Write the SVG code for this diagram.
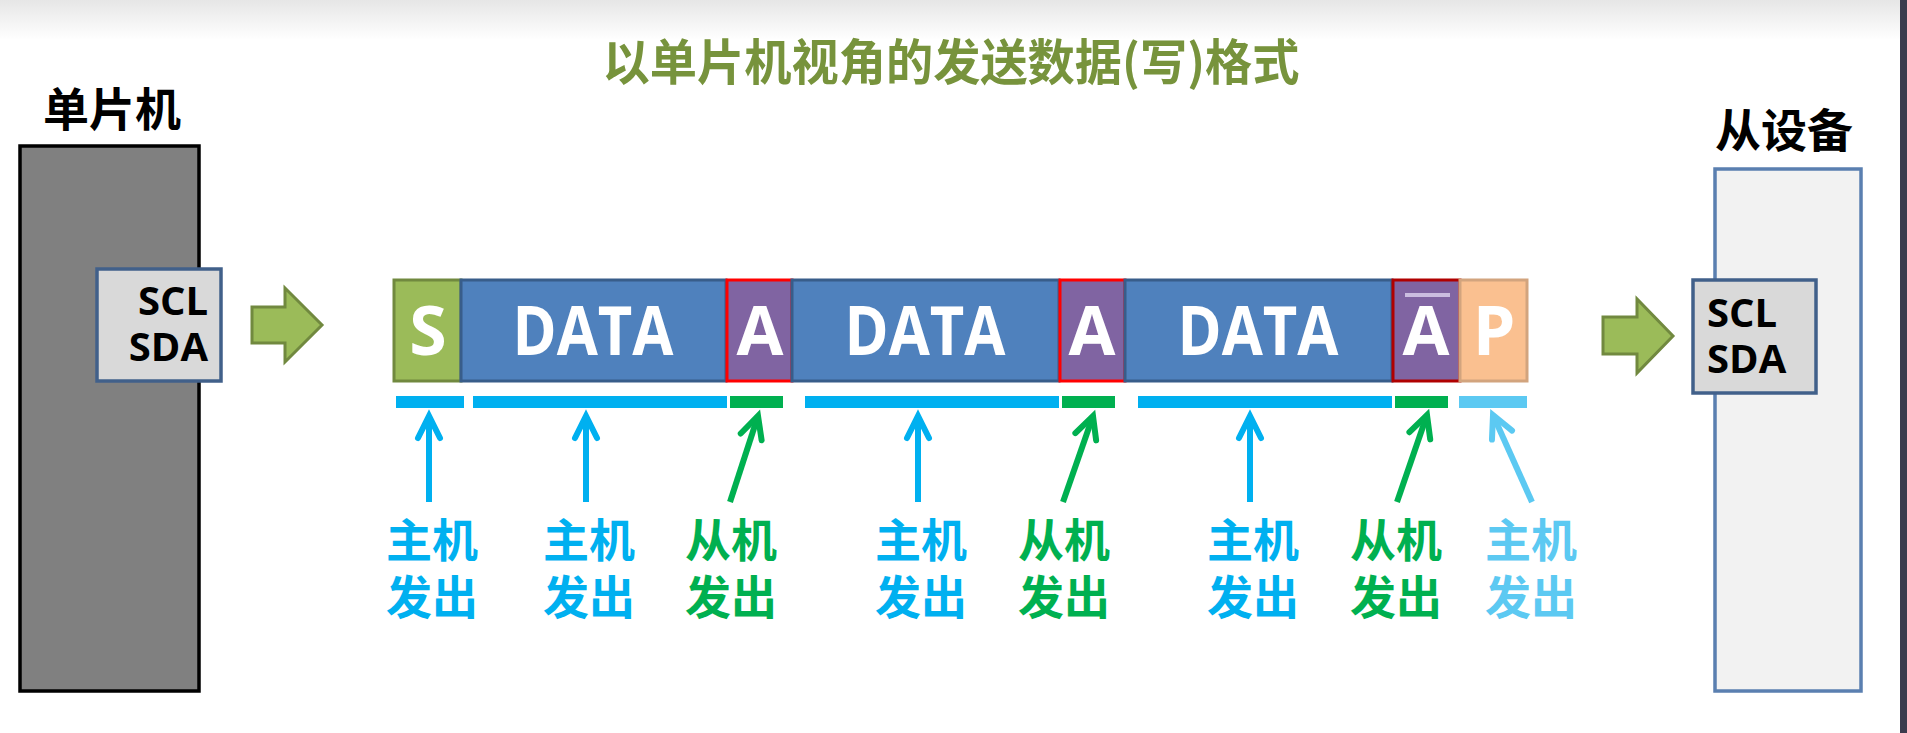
<svg xmlns="http://www.w3.org/2000/svg" width="1907" height="733" viewBox="0 0 1907 733">
<defs>
<linearGradient id="topg" x1="0" y1="0" x2="0" y2="1">
<stop offset="0" stop-color="#e6e6e6"/><stop offset="1" stop-color="#ffffff"/>
</linearGradient>
<marker id="mc" markerUnits="userSpaceOnUse" viewBox="-30 -16 36 32" markerWidth="36" markerHeight="32" refX="0" refY="0" orient="auto" overflow="visible"><path d="M-22,-11 L0,0 L-22,11" fill="none" stroke="#00B0F0" stroke-width="6" stroke-linecap="round"/></marker>
<marker id="mg" markerUnits="userSpaceOnUse" viewBox="-30 -16 36 32" markerWidth="36" markerHeight="32" refX="0" refY="0" orient="auto" overflow="visible"><path d="M-22,-11 L0,0 L-22,11" fill="none" stroke="#00B050" stroke-width="6" stroke-linecap="round"/></marker>
<marker id="ml" markerUnits="userSpaceOnUse" viewBox="-30 -16 36 32" markerWidth="36" markerHeight="32" refX="0" refY="0" orient="auto" overflow="visible"><path d="M-22,-11 L0,0 L-22,11" fill="none" stroke="#5CC9F2" stroke-width="6" stroke-linecap="round"/></marker>
</defs>
<style>
.cjk{font-family:"Noto Sans CJK SC","Noto Sans",sans-serif;font-weight:700}
.lat{font-family:"Open Sans","Noto Sans","Liberation Sans",sans-serif;font-weight:700}
.big{fill:#ffffff;font-size:68px;text-anchor:middle}
.pin{fill:#000000;font-size:40px}
.lbl{font-size:46px;text-anchor:middle}
.cy{fill:#00B0F0}.gr{fill:#00B050}.lc{fill:#5CC9F2}
.seg{stroke-width:3}
</style>
<rect x="0" y="0" width="1907" height="733" fill="#ffffff"/>
<rect x="0" y="0" width="1907" height="40" fill="url(#topg)"/>
<rect x="1900" y="0" width="7" height="733" fill="#3b3b4d"/>

<text class="cjk" x="951" y="80" font-size="49" fill="#77933C" text-anchor="middle" textLength="697" lengthAdjust="spacingAndGlyphs">以单片机视角的发送数据(写)格式</text>

<g id="mcu">
<text class="cjk" x="112" y="126" font-size="46" fill="#000000" text-anchor="middle">单片机</text>
<rect x="20" y="146" width="179" height="545" fill="#808080" stroke="#000000" stroke-width="3.5"/>
</g>
<g id="mcu-pins">
<rect x="97" y="269" width="124" height="112" fill="#D9D9D9" stroke="#41608A" stroke-width="3.5"/>
<text class="lat pin" text-anchor="end"><tspan x="208" y="315">SCL</tspan><tspan x="208" y="361">SDA</tspan></text>
</g>
<g id="arrow-left">
<polygon points="252,307 285,307 285,288 322,325 285,362 285,343 252,343" fill="#9BBB59" stroke="#71893F" stroke-width="3"/>
</g>

<g id="slave">
<text class="cjk" x="1784" y="147" font-size="46" fill="#000000" text-anchor="middle">从设备</text>
<rect x="1715" y="169" width="146" height="522" fill="#F2F2F2" stroke="#5A7FB0" stroke-width="3.5"/>
</g>
<g id="slave-pins">
<rect x="1693" y="280" width="123" height="113" fill="#D9D9D9" stroke="#41608A" stroke-width="3.5"/>
<text class="lat pin"><tspan x="1707" y="327">SCL</tspan><tspan x="1707" y="373">SDA</tspan></text>
</g>
<g id="arrow-right">
<polygon points="1603,317 1637,317 1637,299 1673,336 1637,373 1637,354 1603,354" fill="#9BBB59" stroke="#71893F" stroke-width="3"/>
</g>

<g id="frame">
<g id="seg-s"><rect class="seg" x="394" y="280" width="67" height="101" fill="#9BBB59" stroke="#71893F"/><text class="lat big" x="428" y="355">S</text></g>
<g id="seg-data1"><rect class="seg" x="461" y="280" width="265" height="101" fill="#4F81BD" stroke="#385D8A"/><text class="lat big" x="593" y="355" textLength="161" lengthAdjust="spacingAndGlyphs">DATA</text></g>
<g id="seg-a1"><rect class="seg" x="727" y="280" width="65" height="101" fill="#8064A2" stroke="#FF0000"/><text class="lat big" x="760" y="355">A</text></g>
<g id="seg-data2"><rect class="seg" x="792" y="280" width="267" height="101" fill="#4F81BD" stroke="#385D8A"/><text class="lat big" x="925" y="355" textLength="161" lengthAdjust="spacingAndGlyphs">DATA</text></g>
<g id="seg-a2"><rect class="seg" x="1060" y="280" width="65" height="101" fill="#8064A2" stroke="#FF0000"/><text class="lat big" x="1092" y="355">A</text></g>
<g id="seg-data3"><rect class="seg" x="1125" y="280" width="267" height="101" fill="#4F81BD" stroke="#385D8A"/><text class="lat big" x="1258" y="355" textLength="161" lengthAdjust="spacingAndGlyphs">DATA</text></g>
<g id="seg-nack"><rect class="seg" x="1393" y="280" width="67" height="101" fill="#8064A2" stroke="#B00000"/><text class="lat big" x="1426" y="355">A</text><rect x="1405" y="293" width="45" height="4" fill="#CBBDE0"/></g>
<g id="seg-p"><rect class="seg" x="1460" y="280" width="67" height="101" fill="#FAC090" stroke="#D2A47E"/><text class="lat big" x="1494" y="355">P</text></g>
</g>

<g id="bars">
<rect x="396" y="396" width="68" height="12" fill="#00B0F0"/>
<rect x="473" y="396" width="254" height="12" fill="#00B0F0"/>
<rect x="730" y="396" width="53" height="12" fill="#00B050"/>
<rect x="805" y="396" width="254" height="12" fill="#00B0F0"/>
<rect x="1062" y="396" width="53" height="12" fill="#00B050"/>
<rect x="1138" y="396" width="254" height="12" fill="#00B0F0"/>
<rect x="1395" y="396" width="53" height="12" fill="#00B050"/>
<rect x="1459" y="396" width="68" height="12" fill="#5CC9F2"/>
</g>

<g id="connectors" fill="none" stroke-width="6">
<line x1="429" y1="502" x2="429" y2="416" stroke="#00B0F0" marker-end="url(#mc)"/>
<line x1="586" y1="502" x2="586" y2="416" stroke="#00B0F0" marker-end="url(#mc)"/>
<line x1="730" y1="502" x2="758" y2="416" stroke="#00B050" marker-end="url(#mg)"/>
<line x1="918" y1="502" x2="918" y2="416" stroke="#00B0F0" marker-end="url(#mc)"/>
<line x1="1063" y1="502" x2="1093" y2="416" stroke="#00B050" marker-end="url(#mg)"/>
<line x1="1250" y1="502" x2="1250" y2="416" stroke="#00B0F0" marker-end="url(#mc)"/>
<line x1="1397" y1="502" x2="1427" y2="415" stroke="#00B050" marker-end="url(#mg)"/>
<line x1="1532" y1="502" x2="1493" y2="415" stroke="#5CC9F2" marker-end="url(#ml)"/>
</g>

<g id="labels">
<g id="lbl1"><text class="cjk lbl cy"><tspan x="432" y="557">主机</tspan><tspan x="432" y="614">发出</tspan></text></g>
<g id="lbl2"><text class="cjk lbl cy"><tspan x="589" y="557">主机</tspan><tspan x="589" y="614">发出</tspan></text></g>
<g id="lbl3"><text class="cjk lbl gr"><tspan x="731" y="557">从机</tspan><tspan x="731" y="614">发出</tspan></text></g>
<g id="lbl4"><text class="cjk lbl cy"><tspan x="921" y="557">主机</tspan><tspan x="921" y="614">发出</tspan></text></g>
<g id="lbl5"><text class="cjk lbl gr"><tspan x="1064" y="557">从机</tspan><tspan x="1064" y="614">发出</tspan></text></g>
<g id="lbl6"><text class="cjk lbl cy"><tspan x="1253" y="557">主机</tspan><tspan x="1253" y="614">发出</tspan></text></g>
<g id="lbl7"><text class="cjk lbl gr"><tspan x="1396" y="557">从机</tspan><tspan x="1396" y="614">发出</tspan></text></g>
<g id="lbl8"><text class="cjk lbl lc"><tspan x="1531" y="557">主机</tspan><tspan x="1531" y="614">发出</tspan></text></g>
</g>
</svg>
